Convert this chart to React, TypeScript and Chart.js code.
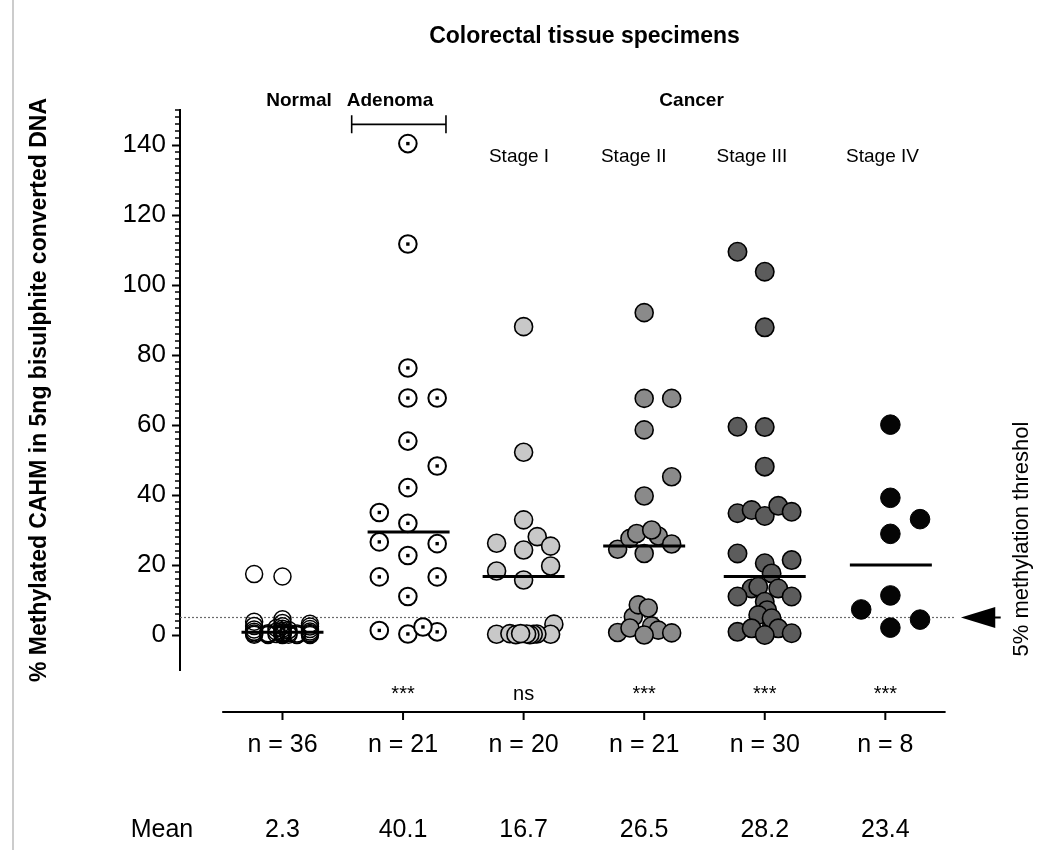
import React, { useEffect, useRef } from "react";
import { Chart, registerables } from "chart.js";

Chart.register(...registerables);

const FONT = "'Liberation Sans', Arial, Helvetica, sans-serif";

// ---------- data ----------
const groups = ["Normal", "Adenoma", "Stage I", "Stage II", "Stage III", "Stage IV"];
const nLabels = ["n = 36", "n = 21", "n = 20", "n = 21", "n = 30", "n = 8"];
const meanLabels = ["2.3", "40.1", "16.7", "26.5", "28.2", "23.4"];
const significance = ["", "***", "ns", "***", "***", "***"];
const yTickValues = [0, 20, 40, 60, 80, 100, 120, 140];
const thresholdValue = 5;

const normalValues = [17.4, 3.8, 2.6, 1.6, 0.9, 0.4, 0.1, 0.5, 0.2, 0.0, 16.7, 4.5, 3.4, 2.5, 1.8, 1.2, 0.8, 0.5, 0.2, 0.0, 1.0, 0.3, 0.6, 0.1, 2.0, 1.4, 0.4, 0.1, 0.0, 3.2, 2.4, 1.7, 1.0, 0.6, 0.3, 0.0];
const normalOffsets = [-0.235, -0.235, -0.235, -0.235, -0.235, -0.235, -0.235, -0.12, -0.12, -0.12, 0, 0, 0, 0, 0, 0, 0, 0, 0, 0, -0.05, -0.05, 0.05, 0.05, -0.05, 0.05, 0.12, 0.12, 0.12, 0.228, 0.228, 0.228, 0.228, 0.228, 0.228, 0.228];

const adenomaValues = [140.4, 111.7, 76.3, 67.7, 67.7, 55.4, 48.3, 42.1, 35.0, 31.9, 26.6, 26.1, 22.7, 16.6, 16.6, 11.0, 1.3, 0.3, 0.9, 2.3];
const adenomaOffsets = [0.04, 0.04, 0.04, 0.04, 0.283, 0.04, 0.283, 0.04, -0.197, 0.04, -0.197, 0.283, 0.04, -0.197, 0.283, 0.04, -0.197, 0.04, 0.283, 0.165];

const stage1Values = [88.1, 52.2, 32.9, 28.1, 26.2, 24.3, 25.4, 19.7, 18.3, 15.7, 3.1, 0.2, 0.3, 0.2, 0.1, 0.3, 0.2, 0.4, 0.1, 0.4];
const stage1Offsets = [0, 0, 0, 0.113, -0.224, 0, 0.224, 0.224, -0.224, 0, 0.251, 0.224, 0.11, 0.08, 0.052, 0.025, -0.224, -0.114, -0.064, -0.025];

const stage2Values = [92.1, 67.6, 67.6, 58.6, 45.2, 39.7, 24.5, 27.6, 29.0, 28.3, 30.0, 23.3, 26.0, 5.2, 8.6, 7.7, 0.7, 2.0, 2.6, 1.4, 0.6, 0.0];
const stage2Offsets = [0, 0, 0.228, 0, 0.228, 0, -0.22, -0.118, -0.062, 0.117, 0.062, 0, 0.228, -0.09, -0.049, 0.034, -0.22, -0.118, 0.062, 0.117, 0.228, 0];

const stage3Values = [109.5, 103.8, 87.9, 59.5, 59.4, 48.1, 34.8, 35.7, 34.0, 36.9, 35.2, 23.3, 20.5, 21.4, 17.6, 13.3, 11.0, 13.8, 13.3, 11.0, 9.5, 2.8, 7.1, 5.7, 4.8, 0.9, 1.9, 1.9, 0.5, 0.0];
const stage3Offsets = [-0.226, 0, 0, -0.226, 0, 0, -0.226, -0.109, 0, 0.112, 0.223, -0.226, 0, 0.223, 0.057, -0.109, -0.226, -0.054, 0.112, 0.223, 0, 0.06, 0.02, -0.054, 0.057, -0.226, -0.109, 0.112, 0.223, 0];

const stage4Values = [60.1, 39.2, 33.1, 28.9, 11.3, 7.3, 2.1, 4.4];
const stage4Offsets = [0.042, 0.042, 0.288, 0.042, 0.042, -0.2, 0.042, 0.288];

const medianValues = [0.8, 29.4, 16.7, 25.4, 16.7, 20.0];
const medianCenterOffsets = [0, 0.046, 0, 0, 0, 0.046];
const medianHalfWidth = 0.34;

const groupValues = [normalValues, adenomaValues, stage1Values, stage2Values, stage3Values, stage4Values];
const groupOffsets = [normalOffsets, adenomaOffsets, stage1Offsets, stage2Offsets, stage3Offsets, stage4Offsets];

// ---------- styles / layout ----------
const groupFill = ["rgba(0,0,0,0)", "#ffffff", "#c8c8c8", "#8a8a8a", "#5c5c5c", "#050505"];
const groupRadius = [8.5, 8.8, 9.0, 9.0, 9.2, 9.8];
const groupBorderWidth = [1.5, 2, 1.6, 1.6, 1.6, 1];

const X_MIN = -0.85;
const X_MAX = 5.495;
const Y_MIN = -10;
const Y_MAX = 150;

const toPoints = (vals: number[], offs: number[], g: number) =>
  vals.map((v, i) => ({ x: g + offs[i], y: v }));

const annotationPlugin = {
  id: "annotations",
  beforeDatasetsDraw(chart: any) {
    const { ctx, chartArea, scales } = chart;
    const x = scales.x;
    const y = scales.y;
    const ty = y.getPixelForValue(thresholdValue);
    ctx.save();
    ctx.strokeStyle = "#6a6a6a";
    ctx.lineWidth = 1.2;
    ctx.setLineDash([2, 2]);
    ctx.beginPath();
    ctx.moveTo(chartArea.left, ty);
    ctx.lineTo(x.getPixelForValue(5.584), ty);
    ctx.stroke();
    ctx.restore();
  },
  afterDraw(chart: any) {
    const { ctx, chartArea, scales } = chart;
    const x = scales.x;
    const y = scales.y;
    const px = (v: number) => x.getPixelForValue(v);
    const py = (v: number) => y.getPixelForValue(v);
    ctx.save();
    // left frame line
    ctx.strokeStyle = "#cccccc";
    ctx.lineWidth = 2;
    ctx.beginPath();
    ctx.moveTo(13, 0);
    ctx.lineTo(13, chart.height);
    ctx.stroke();

    // minor y ticks
    ctx.strokeStyle = "#000";
    ctx.lineWidth = 1.5;
    for (let v = 0; v <= Y_MAX; v += 2) {
      if (v % 20 === 0 && v <= 140) continue;
      const yy = py(v);
      ctx.beginPath();
      ctx.moveTo(chartArea.left - 5, yy);
      ctx.lineTo(chartArea.left, yy);
      ctx.stroke();
    }

    // bottom category axis
    const axY = py(-22);
    ctx.lineWidth = 2;
    ctx.beginPath();
    ctx.moveTo(px(-0.5), axY);
    ctx.lineTo(px(5.5), axY);
    ctx.stroke();
    groups.forEach((_, i) => {
      ctx.beginPath();
      ctx.moveTo(px(i), axY);
      ctx.lineTo(px(i), axY + 8);
      ctx.stroke();
    });

    ctx.fillStyle = "#000";
    ctx.textAlign = "center";
    // significance
    ctx.font = `20px ${FONT}`;
    ctx.textBaseline = "alphabetic";
    significance.forEach((s, i) => {
      if (s) ctx.fillText(s, px(i), py(-18.6));
    });
    // n labels and means
    ctx.font = `25px ${FONT}`;
    ctx.textBaseline = "middle";
    nLabels.forEach((s, i) => ctx.fillText(s, px(i), py(-31.4)));
    ctx.fillText("Mean", px(-1.0), py(-55.7));
    meanLabels.forEach((s, i) => ctx.fillText(s, px(i), py(-55.7)));

    // title
    ctx.font = `bold 23px ${FONT}`;
    ctx.fillText("Colorectal tissue specimens", px(2.505), py(170.9));
    // group labels
    ctx.font = `bold 19px ${FONT}`;
    ctx.fillText("Normal", px(0.137), py(152.6));
    ctx.fillText("Adenoma", px(0.892), py(152.6));
    ctx.fillText("Cancer", px(3.393), py(152.6));
    // bracket
    ctx.lineWidth = 1.6;
    const by = py(145.9);
    ctx.beginPath();
    ctx.moveTo(px(0.574), by);
    ctx.lineTo(px(1.356), by);
    ctx.moveTo(px(0.574), by - 9);
    ctx.lineTo(px(0.574), by + 9);
    ctx.moveTo(px(1.356), by - 9);
    ctx.lineTo(px(1.356), by + 9);
    ctx.stroke();
    // stage labels
    ctx.font = `19px ${FONT}`;
    const stageLabelX = [1.962, 2.913, 3.894, 4.977];
    ["Stage I", "Stage II", "Stage III", "Stage IV"].forEach((s, i) =>
      ctx.fillText(s, px(stageLabelX[i]), py(136.6))
    );

    // arrow
    const ay = py(thresholdValue);
    ctx.beginPath();
    ctx.moveTo(px(5.627), ay);
    ctx.lineTo(px(5.912), ay - 10.5);
    ctx.lineTo(px(5.912), ay + 10.5);
    ctx.closePath();
    ctx.fill();
    ctx.lineWidth = 2;
    ctx.beginPath();
    ctx.moveTo(px(5.9), ay);
    ctx.lineTo(px(5.957), ay);
    ctx.stroke();

    // right rotated label
    ctx.save();
    ctx.translate(px(6.131), py(27.4));
    ctx.rotate(-Math.PI / 2);
    ctx.font = `22px ${FONT}`;
    ctx.textBaseline = "middle";
    ctx.fillText("5% methylation threshol", 0, 0);
    ctx.restore();

    ctx.restore();
  },
};

export default function App() {
  const ref = useRef<HTMLCanvasElement>(null);
  useEffect(() => {
    const datasets: any[] = [];
    medianValues.forEach((m, g) => {
      const c = g + medianCenterOffsets[g];
      datasets.push({
        label: `median ${groups[g]}`,
        data: [
          { x: c - medianHalfWidth, y: m },
          { x: c + medianHalfWidth, y: m },
        ],
        showLine: true,
        borderColor: "#000",
        borderWidth: 3,
        pointRadius: 0,
        pointHoverRadius: 0,
        order: 0,
      });
    });
    datasets.push({
      label: "Adenoma centre",
      data: toPoints(adenomaValues, adenomaOffsets, 1),
      pointStyle: "rect",
      pointRadius: 2.4,
      pointHoverRadius: 2.4,
      pointBackgroundColor: "#000",
      pointBorderWidth: 0,
      order: 1,
    });
    groupValues.forEach((vals, g) => {
      datasets.push({
        label: groups[g],
        data: toPoints(vals, groupOffsets[g], g),
        pointStyle: "circle",
        pointRadius: groupRadius[g],
        pointHoverRadius: groupRadius[g],
        pointBackgroundColor: groupFill[g],
        pointBorderColor: "#000",
        pointBorderWidth: groupBorderWidth[g],
        pointHoverBorderWidth: groupBorderWidth[g],
        order: 2,
      });
    });

    const chart = new Chart(ref.current as HTMLCanvasElement, {
      type: "scatter",
      data: { datasets },
      options: {
        responsive: false,
        animation: false,
        devicePixelRatio: 1,
        events: [],
        layout: { padding: { left: 0, right: 92, top: 110, bottom: 180 } },
        plugins: { legend: { display: false }, tooltip: { enabled: false }, title: { display: false } },
        scales: {
          x: { type: "linear", min: X_MIN, max: X_MAX, display: false },
          y: {
            type: "linear",
            min: Y_MIN,
            max: Y_MAX,
            afterBuildTicks: (s: any) => {
              s.ticks = yTickValues.map((v) => ({ value: v }));
            },
            afterFit: (s: any) => {
              s.width = 180;
            },
            border: { display: true, color: "#000", width: 2 },
            grid: { drawOnChartArea: false, drawTicks: true, tickLength: 8, tickColor: "#000", tickWidth: 2 },
            ticks: { color: "#000", font: { family: FONT, size: 26 }, padding: 6 },
            title: {
              display: true,
              text: "% Methylated CAHM in 5ng bisulphite converted DNA",
              color: "#000",
              font: { family: FONT, size: 23, weight: "bold" },
              padding: { top: 26, bottom: 0 },
            },
          },
        },
      },
      plugins: [annotationPlugin],
    } as any);
    return () => chart.destroy();
  }, []);
  return (
    <div style={{ position: "fixed", left: 0, top: 0, width: 1037, height: 850, background: "#fff" }}>
      <canvas ref={ref} width={1037} height={850} style={{ display: "block", width: 1037, height: 850 }} />
    </div>
  );
}
